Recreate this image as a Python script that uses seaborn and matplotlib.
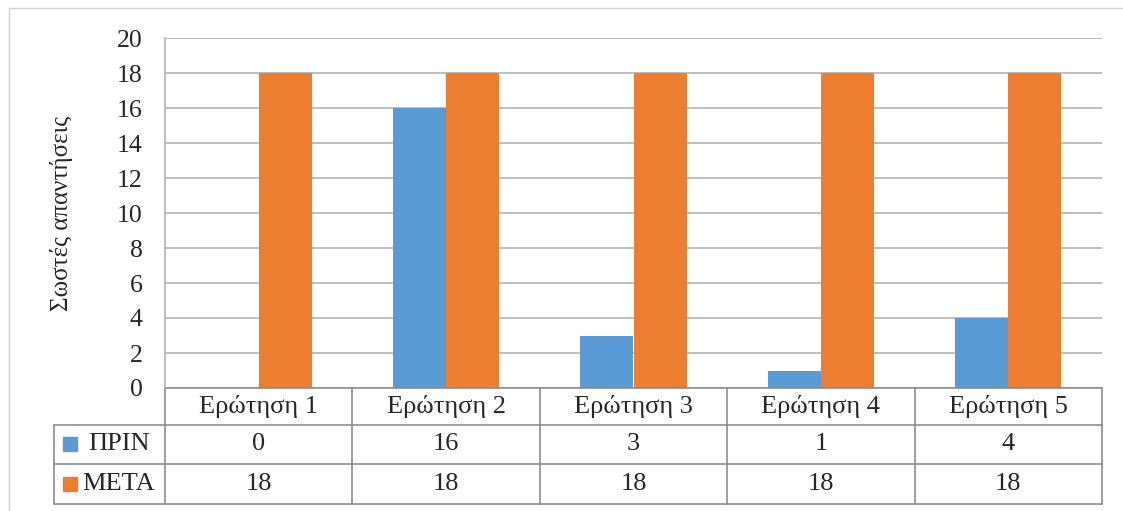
import numpy as np
import pandas as pd
import matplotlib.pyplot as plt
import seaborn as sns
from matplotlib.lines import Line2D
from matplotlib.patches import Rectangle

# data
questions = ['Ερώτηση 1', 'Ερώτηση 2', 'Ερώτηση 3', 'Ερώτηση 4', 'Ερώτηση 5']
before = [0, 16, 3, 1, 4]
after = [18, 18, 18, 18, 18]
series = ['ΠΡΙΝ', 'ΜΕΤΑ']
colors = ['#5B9BD5', '#ED7D31']

df = pd.DataFrame({
    'question': questions * 2,
    'value': before + after,
    'series': [series[0]] * len(questions) + [series[1]] * len(questions),
})

sns.set_style('white')
plt.rcParams['font.family'] = ['Liberation Serif', 'DejaVu Serif']

W, H = 1123, 511
fig = plt.figure(figsize=(W / 100, H / 100), dpi=100)
ax = fig.add_axes([165 / W, 1 - 388 / H, (1102 - 165) / W, 350 / H])

sns.barplot(data=df, x='question', y='value', hue='series', palette=colors,
            width=0.566, gap=0, saturation=1, legend=False, ax=ax,
            edgecolor='none', linewidth=0)

ax.set_xlim(-0.5, 4.5)
ax.set_ylim(0, 20)
ax.set_yticks(range(0, 21, 2))
ax.yaxis.grid(True, color='#b3b3b3', lw=1.2)
ax.xaxis.grid(False)
ax.set_axisbelow(True)
for s in ['top', 'right', 'bottom']:
    ax.spines[s].set_visible(False)
ax.spines['left'].set_color('#b3b3b3')
ax.spines['left'].set_linewidth(1.2)
ax.tick_params(axis='y', length=0, pad=16, labelsize=18.5)
ax.tick_params(axis='x', bottom=False, labelbottom=False)
ax.set_xlabel('')
ax.set_ylabel('Σωστές απαντήσεις', fontsize=18, va='center')
ax.yaxis.set_label_coords(-0.11, 0.5)

# data table under the plot
trans = ax.get_xaxis_transform()
ys = [0, -0.1057, -0.2171, -0.3314]
xl = -1.092
lc = '#8c8c8c'
for x in np.arange(-0.5, 5, 1):
    ax.add_line(Line2D([x, x], [ys[0], ys[-1]], transform=trans, color=lc, lw=1.2, clip_on=False))
ax.add_line(Line2D([xl, xl], [ys[1], ys[-1]], transform=trans, color=lc, lw=1.2, clip_on=False))
ax.add_line(Line2D([-0.5, 4.5], [ys[0], ys[0]], transform=trans, color=lc, lw=1.2, clip_on=False))
for y in ys[1:]:
    ax.add_line(Line2D([xl, 4.5], [y, y], transform=trans, color=lc, lw=1.2, clip_on=False))

fs = 19
for i, q in enumerate(questions):
    ax.text(i, (ys[0] + ys[1]) / 2, q, transform=trans, ha='center', va='center', fontsize=fs)
    ax.text(i, (ys[1] + ys[2]) / 2, str(before[i]), transform=trans, ha='center', va='center', fontsize=fs)
    ax.text(i, (ys[2] + ys[3]) / 2, str(after[i]), transform=trans, ha='center', va='center', fontsize=fs)

# legend keys inside the table
for k, (name, c) in enumerate(zip(series, colors)):
    yc = [444, 484][k]
    fig.add_artist(Rectangle((63 / W, 1 - (yc + 7) / H), 14 / W, 14 / H,
                             transform=fig.transFigure, color=c))
    fig.text(119 / W, 1 - yc / H, name, ha='center', va='center', fontsize=fs)

# outer chart frame
fig.add_artist(Line2D([9 / W, 1], [1 - 8 / H, 1 - 8 / H], transform=fig.transFigure, color='#d0d0d0', lw=1))
fig.add_artist(Line2D([9 / W, 9 / W], [0, 1 - 8 / H], transform=fig.transFigure, color='#d0d0d0', lw=1))

fig.savefig('out.png', dpi=100)
